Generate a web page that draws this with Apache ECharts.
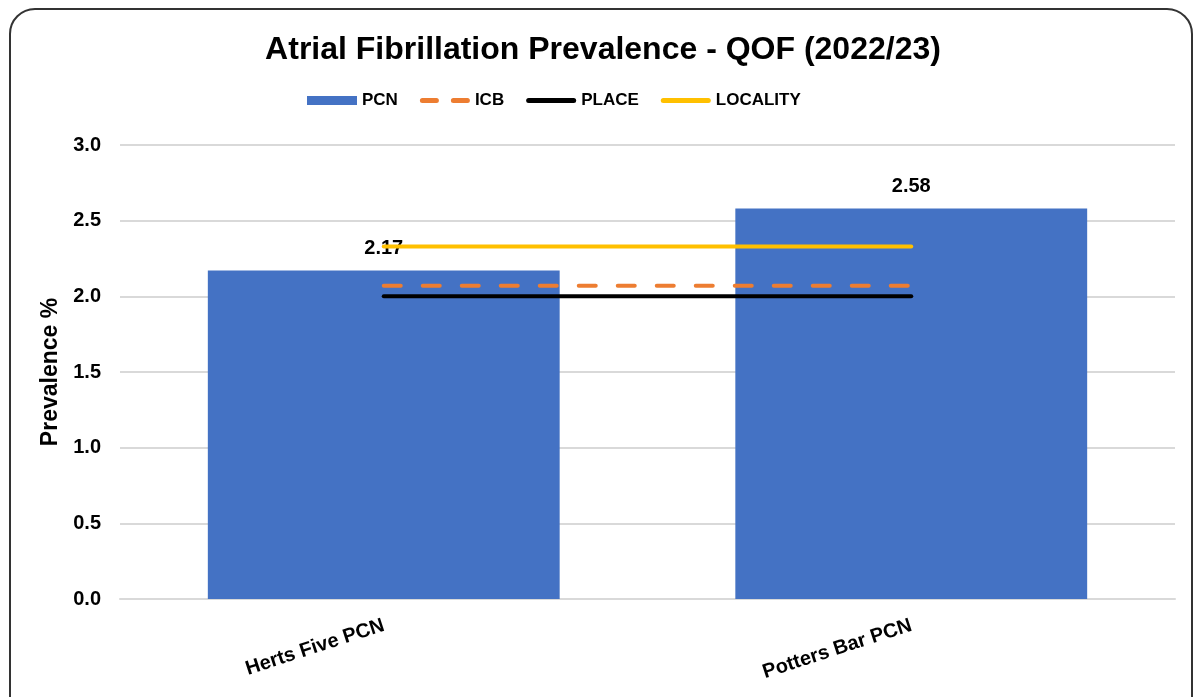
<!DOCTYPE html>
<html>
<head>
<meta charset="utf-8">
<script src="https://cdn.jsdelivr.net/npm/echarts@6/dist/echarts.min.js"></script>
<style>
html,body{margin:0;padding:0;background:#fff;overflow:hidden;}
#frame{position:absolute;left:9px;top:8px;width:1184px;height:740px;border:2px solid #333;border-radius:26px;box-sizing:border-box;}
#chart{position:absolute;left:0;top:0;width:1194px;height:697px;}
</style>
</head>
<body>
<div id="frame"></div>
<div id="chart"></div>
<script>
const categories = ['Herts Five PCN', 'Potters Bar PCN'];
const pcnValues = [2.17, 2.58];
const icbValues = [2.07, 2.07];
const placeValues = [2.00, 2.00];
const localityValues = [2.33, 2.33];
const yTicks = { min: 0, max: 3, interval: 0.5 };

const font = 'Liberation Sans, Arial, sans-serif';
const lineIcon = 'path://M2.5,0h45a2.5,2.5 0 0 1 0,5h-45a2.5,2.5 0 0 1 0,-5z';
const dashIcon = 'path://M2.5,0h14a2.5,2.5 0 0 1 0,5h-14a2.5,2.5 0 0 1 0,-5z M33.5,0h14a2.5,2.5 0 0 1 0,5h-14a2.5,2.5 0 0 1 0,-5z';
const chart = echarts.init(document.getElementById('chart'), null, { renderer: 'canvas' });
chart.setOption({
  animation: false,
  title: {
    text: 'Atrial Fibrillation Prevalence - QOF (2022/23)',
    left: 598, textAlign: 'center', top: 29,
    textStyle: { fontFamily: font, fontSize: 32, fontWeight: 'bold', color: '#000' }
  },
  legend: {
    top: 87, left: 302, itemWidth: 50, itemHeight: 9, itemGap: 22, symbolKeepAspect: true,
    textStyle: { fontFamily: font, fontSize: 17, fontWeight: 'bold', color: '#000' },
    data: [
      { name: 'PCN', icon: 'rect' },
      { name: 'ICB', icon: dashIcon },
      { name: 'PLACE', icon: lineIcon },
      { name: 'LOCALITY', icon: lineIcon }
    ]
  },
  grid: { left: 120, right: 19, top: 145, bottom: 98, containLabel: false },
  xAxis: {
    type: 'category', data: categories,
    axisTick: { show: false },
    axisLine: { lineStyle: { color: '#d9d9d9', width: 2 } },
    axisLabel: { rotate: 18, fontFamily: font, fontSize: 20, fontWeight: 'bold', color: '#000', margin: 26 }
  },
  yAxis: {
    type: 'value', min: yTicks.min, max: yTicks.max, interval: yTicks.interval,
    name: 'Prevalence %', nameLocation: 'middle', nameGap: 54, nameRotate: 90,
    nameTextStyle: { fontFamily: font, fontSize: 23, fontWeight: 'bold', color: '#000' },
    axisLine: { show: false }, axisTick: { show: false },
    axisLabel: { formatter: v => v.toFixed(1), fontFamily: font, fontSize: 20, fontWeight: 'bold', color: '#000', margin: 19 },
    splitLine: { lineStyle: { color: '#d9d9d9', width: 2 } }
  },
  series: [
    {
      name: 'PCN', type: 'bar', data: pcnValues, barWidth: '66.7%',
      itemStyle: { color: '#4472C4' },
      label: { show: true, position: 'top', distance: 12, formatter: p => p.value.toFixed(2),
        fontFamily: font, fontSize: 20, fontWeight: 'bold', color: '#000' }
    },
    {
      name: 'ICB', type: 'line', data: icbValues, symbol: 'none',
      itemStyle: { color: '#ED7D31' },
      lineStyle: { color: '#ED7D31', width: 4, type: [17, 22], cap: 'round' }
    },
    {
      name: 'PLACE', type: 'line', data: placeValues, symbol: 'none',
      itemStyle: { color: '#000' },
      lineStyle: { color: '#000', width: 4, cap: 'round' }
    },
    {
      name: 'LOCALITY', type: 'line', data: localityValues, symbol: 'none',
      itemStyle: { color: '#FFC000' },
      lineStyle: { color: '#FFC000', width: 4, cap: 'round' }
    }
  ]
});
</script>
</body>
</html>
